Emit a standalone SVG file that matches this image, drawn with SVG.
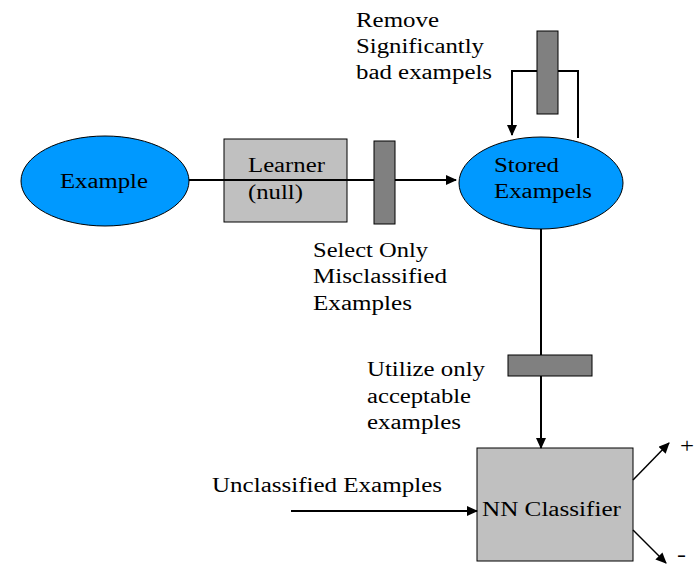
<svg xmlns="http://www.w3.org/2000/svg" width="700" height="565" viewBox="0 0 700 565">
<defs>
<style>
text{font-family:'Liberation Serif','Times New Roman','DejaVu Serif',serif;font-size:20px;fill:#000}
.ell{fill:#0099ff;stroke:#000;stroke-width:1}
.box{fill:#c0c0c0;stroke:#000;stroke-width:1}
.bar{fill:#808080;stroke:#000;stroke-width:1}
.ln{fill:none;stroke:#000;stroke-width:2}
.thin{stroke-width:1.5}
</style>
<marker id="ah" markerWidth="11" markerHeight="10" refX="10" refY="5" orient="auto" markerUnits="userSpaceOnUse" viewBox="0 0 11 10">
<path d="M0,0 L11,5 L0,10 z" fill="#000"/>
</marker>
</defs>
<g id="node-example"><ellipse class="ell" cx="105" cy="181" rx="84" ry="45"/><text x="60" y="188" textLength="88" lengthAdjust="spacingAndGlyphs">Example</text></g>
<g id="node-learner"><rect class="box" x="224" y="139" width="123" height="83"/><text x="248" y="172" textLength="77" lengthAdjust="spacingAndGlyphs">Learner</text><text x="248" y="199" textLength="55" lengthAdjust="spacingAndGlyphs">(null)</text></g>
<g id="node-stored"><ellipse class="ell" cx="541" cy="183" rx="82" ry="46"/><text x="494" y="172" textLength="65" lengthAdjust="spacingAndGlyphs">Stored</text><text x="494" y="198" textLength="98" lengthAdjust="spacingAndGlyphs">Exampels</text></g>
<g id="node-nn"><rect class="box" x="477" y="448" width="156" height="113"/><text x="482" y="516" textLength="139" lengthAdjust="spacingAndGlyphs">NN Classifier</text></g>
<g id="connectors">
<path class="ln" d="M189,180 L456,180" marker-end="url(#ah)"/>
<path class="ln" d="M578,138 L578,71 L512,71 L512,135" marker-end="url(#ah)"/>
<path class="ln" d="M541,229 L541,448" marker-end="url(#ah)"/>
<path class="ln" d="M291,511 L477,511" marker-end="url(#ah)"/>
<path class="ln thin" d="M633,480 L669,443" marker-end="url(#ah)"/>
<path class="ln thin" d="M633,530 L666,563" marker-end="url(#ah)"/>
</g>
<g id="filters">
<rect class="bar" x="374" y="141" width="21" height="83"/>
<rect class="bar" x="537" y="31" width="21" height="83"/>
<rect class="bar" x="508" y="355" width="84" height="21"/>
</g>
<g id="labels">
<text x="356" y="27" textLength="83" lengthAdjust="spacingAndGlyphs">Remove</text>
<text x="356" y="53" textLength="128" lengthAdjust="spacingAndGlyphs">Significantly</text>
<text x="356" y="79" textLength="136" lengthAdjust="spacingAndGlyphs">bad exampels</text>
<text x="313" y="257" textLength="115" lengthAdjust="spacingAndGlyphs">Select Only</text>
<text x="313" y="283" textLength="134" lengthAdjust="spacingAndGlyphs">Misclassified</text>
<text x="313" y="310" textLength="99" lengthAdjust="spacingAndGlyphs">Examples</text>
<text x="367" y="376" textLength="118" lengthAdjust="spacingAndGlyphs">Utilize only</text>
<text x="367" y="403" textLength="104" lengthAdjust="spacingAndGlyphs">acceptable</text>
<text x="367" y="429" textLength="94" lengthAdjust="spacingAndGlyphs">examples</text>
<text x="212" y="492" textLength="230" lengthAdjust="spacingAndGlyphs">Unclassified Examples</text>
<text x="680" y="453" font-size="26" textLength="14" lengthAdjust="spacingAndGlyphs">+</text>
<text x="677" y="561" textLength="9" lengthAdjust="spacingAndGlyphs">-</text>
</g>
</svg>
